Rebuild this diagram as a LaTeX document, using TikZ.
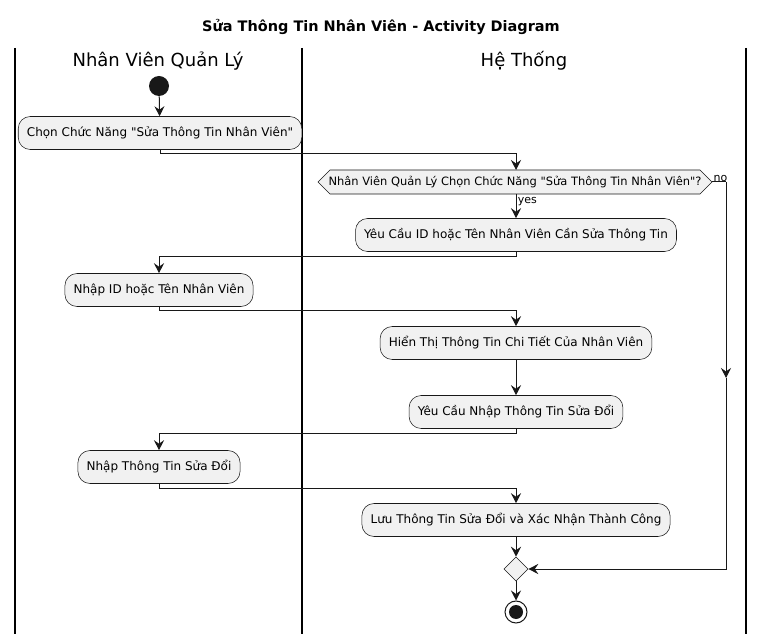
\documentclass[tikz,border=0pt]{standalone}
\usepackage{fontspec}
\setmainfont{DejaVu Sans}[Ligatures=TeXOff]
\usetikzlibrary{arrows.meta,shapes.geometric}
\definecolor{ink}{HTML}{181818}
\definecolor{boxfill}{HTML}{F1F1F1}
\newcommand{\dq}{\symbol{34}}
\tikzset{
  act/.style={draw=ink, line width=0.4pt, fill=boxfill, rounded corners=9pt, minimum height=24.75pt, inner xsep=6.5pt, font=\fontsize{9}{11}\selectfont},
  conn/.style={draw=ink, line width=0.75pt, -{Stealth[length=7.5pt,width=7.5pt,inset=2.6pt]}},
  plain/.style={draw=ink, line width=0.75pt},
  lane/.style={draw=black, line width=1.3pt},
  lanetitle/.style={font=\fontsize{13.5}{16}\selectfont},
  lbl/.style={font=\fontsize{8.25}{10}\selectfont, inner sep=1pt},
  hexshape/.style={draw=ink, line width=0.4pt, fill=boxfill},
}
\begin{document}
\begin{tikzpicture}[x=0.75pt,y=-0.75pt]
\useasboundingbox (0,0) rectangle (764,634);
% title
\node[font=\bfseries\fontsize{10.85}{12}\selectfont] (title) at (381,27) {Sửa Thông Tin Nhân Viên - Activity Diagram};
% lanes
\draw[lane] (15,48) -- (15,634);
\draw[lane] (302,48) -- (302,634);
\draw[lane] (746,48) -- (746,634);
\node[lanetitle] (l1) at (158,61) {Nhân Viên Quản Lý};
\node[lanetitle] (l2) at (524,61) {Hệ Thống};
% start
\node[circle, fill=ink, minimum size=15pt, inner sep=0pt] (start) at (159,86) {};
\node[act] (a1) at (160,133) {Chọn Chức Năng \dq Sửa Thông Tin Nhân Viên\dq};
% decision hexagon
\coordinate (dl) at (318,182);
\coordinate (dtl) at (330,170);
\coordinate (dtr) at (700,170);
\coordinate (dr) at (712,182);
\coordinate (dbr) at (700,194);
\coordinate (dbl) at (330,194);
\coordinate (dtop) at (516,170);
\coordinate (dbot) at (516,194);
\draw[hexshape] (dl) -- (dtl) -- (dtr) -- (dr) -- (dbr) -- (dbl) -- cycle;
\node[font=\fontsize{8.6}{10}\selectfont, inner sep=0pt] (d1) at (515,182) {Nhân Viên Quản Lý Chọn Chức Năng \dq Sửa Thông Tin Nhân Viên\dq ?};
\node[act] (a2) at (516,235) {Yêu Cầu ID hoặc Tên Nhân Viên Cần Sửa Thông Tin};
\node[act] (a3) at (159,290) {Nhập ID hoặc Tên Nhân Viên};
\node[act] (a4) at (516,343) {Hiển Thị Thông Tin Chi Tiết Của Nhân Viên};
\node[act] (a5) at (516,412) {Yêu Cầu Nhập Thông Tin Sửa Đổi};
\node[act] (a6) at (159,467) {Nhập Thông Tin Sửa Đổi};
\node[act] (a7) at (516,520) {Lưu Thông Tin Sửa Đổi và Xác Nhận Thành Công};
\node[diamond, draw=ink, line width=0.4pt, fill=boxfill, minimum size=18pt, inner sep=0pt] (m) at (516,569) {};
\node[circle, draw=ink, line width=0.75pt, fill=white, minimum size=16.5pt, inner sep=0pt] (endo) at (516,612) {};
\node[circle, fill=ink, minimum size=10.5pt, inner sep=0pt] (endi) at (516,612) {};
\coordinate (nocorner) at (726,182);
\coordinate (nomid) at (726,378);
\coordinate (nobot) at (726,569);
% connectors
\draw[conn] (a1.south) |- (516,154) -- (dtop);
\draw[conn] (start) -- (a1);
\draw[conn] (dbot) -- node[lbl, right, pos=0.3] {yes} (a2.north);
\draw[conn] (a2.south) |- (159,257) -- (a3.north);
\draw[conn] (a3.south) |- (516,311) -- (a4.north);
\draw[conn] (a4) -- (a5);
\draw[conn] (a5.south) |- (159,434) -- (a6.north);
\draw[conn] (a6.south) |- (516,488) -- (a7.north);
\draw[conn] (a7) -- (m);
\draw[conn] (m) -- (endo);
\draw[plain] (dr) -- (nocorner);
\node[lbl, anchor=south west] (nolbl) at (712,183) {no};
\draw[conn] (nocorner) -- (nomid);
\draw[conn] (nomid) -- (nobot) -- (m.east);
\end{tikzpicture}
\end{document}
